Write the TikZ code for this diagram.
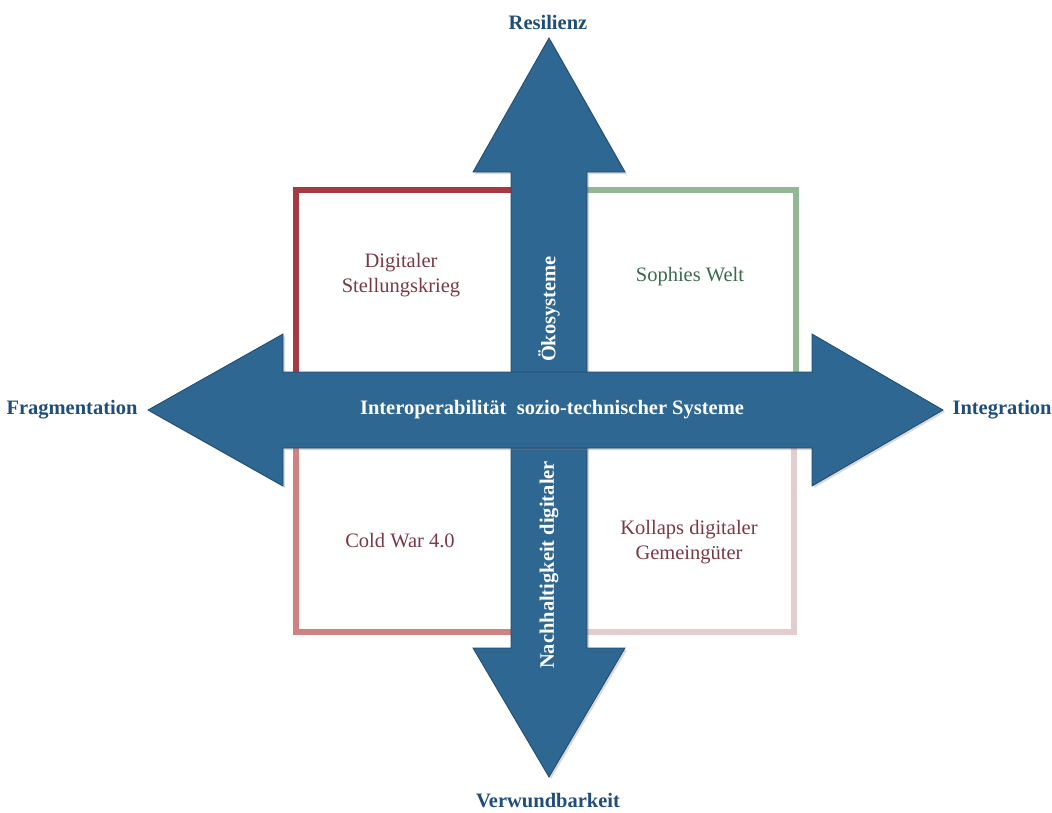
\documentclass[tikz,border=0pt]{standalone}
\usepackage{fontspec}
\setmainfont{Liberation Serif}
\usepackage{xcolor}
\definecolor{cArrow}{HTML}{2E6791}
\definecolor{cArrowEdge}{HTML}{1F4A6E}
\definecolor{cLabel}{HTML}{1F4E79}
\definecolor{cRedDark}{HTML}{A63A40}
\definecolor{cGreen}{HTML}{94B894}
\definecolor{cRedLight}{HTML}{D08282}
\definecolor{cPink}{HTML}{E3CDCD}
\definecolor{cTxtRed}{HTML}{7A3A45}
\definecolor{cTxtGreen}{HTML}{3D6B4B}
\usetikzlibrary{positioning,shadows}
\tikzset{
  quad-box/.style={line width=6pt,fill=white,
    drop shadow={opacity=0.15,shadow xshift=2pt,shadow yshift=-2pt}},
  quad-text/.style={align=center,font=\fontsize{20.5}{25}\selectfont},
  axis-arrow/.style={fill=cArrow,draw=cArrowEdge,line width=0.8pt,
    line join=miter,
    drop shadow={opacity=0.3,shadow xshift=2pt,shadow yshift=-2pt}},
  axis-label/.style={text=cLabel,font=\fontsize{20.5}{24}\selectfont\bfseries},
  arrow-text/.style={text=white,font=\fontsize{20.5}{24}\selectfont\bfseries},
}
\begin{document}
\begin{tikzpicture}[x=1pt,y=-1pt]
  \useasboundingbox (0,0) rectangle (1052,812);
  % vier Szenarien
  \draw[quad-box,draw=cRedDark] (296,190) rectangle (520,380);
  \draw[quad-box,draw=cGreen] (580,190) rectangle (796,380);
  \draw[quad-box,draw=cRedLight] (296,440) rectangle (520,632);
  \draw[quad-box,draw=cPink] (580,440) rectangle (794,632);
  \node[quad-text,text=cTxtRed] (krieg) at (401,275) {Digitaler\\Stellungskrieg};
  \node[quad-text,text=cTxtGreen] (sophie) at (690,277) {Sophies Welt};
  \node[quad-text,text=cTxtRed] (coldwar) at (400,541) {Cold War 4.0};
  \node[quad-text,text=cTxtRed] (kollaps) at (689,542) {Kollaps digitaler\\Gemeingüter};
  % Achsen
  \draw[axis-arrow] (549,38) -- (625,172) -- (587,172) -- (587,648) -- (625,648)
    -- (549,777) -- (473,648) -- (511,648) -- (511,172) -- (473,172) -- cycle;
  \draw[axis-arrow] (148,410) -- (283,334) -- (283,372) -- (812,372) -- (812,334)
    -- (943,410) -- (812,486) -- (812,448) -- (283,448) -- (283,486) -- cycle;
  \node[arrow-text] (interop) at (552,410) {Interoperabilität\ \ sozio-technischer Systeme};
  \node[arrow-text,rotate=90] (oeko) at (549,309) {Ökosysteme};
  \node[arrow-text,rotate=90] (nachhalt) at (549,565) {Nachhaltigkeit digitaler};
  \node[axis-label] (resilienz) at (548,22) {Resilienz};
  \node[axis-label] (verwund) at (548,801) {Verwundbarkeit};
  \node[axis-label,anchor=east] (frag) at (141,410) {Fragmentation};
  \node[axis-label,anchor=west] (integ) at (949,410) {Integration};
\end{tikzpicture}
\end{document}
